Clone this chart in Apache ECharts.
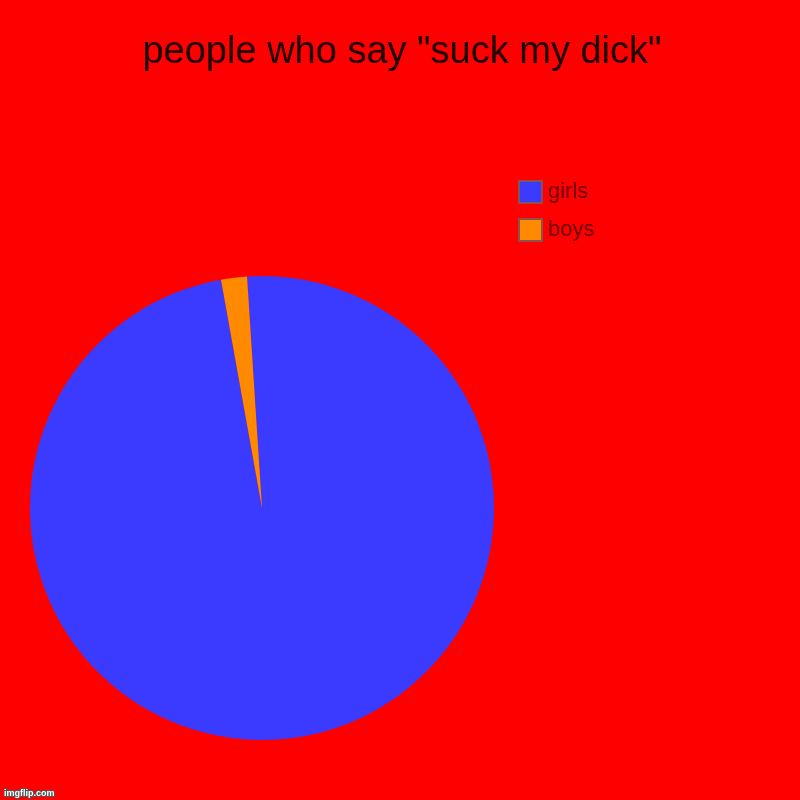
<!DOCTYPE html>
<html>
<head>
<meta charset="utf-8">
<script src="https://cdn.jsdelivr.net/npm/echarts@6/dist/echarts.min.js"></script>
<style>html,body{margin:0;padding:0;background:#ff0000;}#c{width:800px;height:800px;}</style>
</head>
<body>
<div id="c"></div>
<script>
const categories = ['girls', 'boys'];
const values = [98.2, 1.8];
const colors = ['#3b3bff', '#ff8a00'];

const chart = echarts.init(document.getElementById('c'));
chart.setOption({
  backgroundColor: '#ff0000',
  animation: false,
  title: {
    text: 'people who say "suck my dick"',
    left: 397,
    textAlign: 'center',
    top: 29,
    textStyle: { fontFamily: 'Liberation Sans', fontSize: 38, fontWeight: 'normal', color: '#1e0000' }
  },
  legend: {
    orient: 'vertical',
    left: 513,
    top: 175,
    icon: 'rect',
    itemWidth: 23,
    itemHeight: 22,
    itemGap: 14,
    itemStyle: { borderColor: '#8c5050', borderWidth: 2 },
    textStyle: { fontFamily: 'Liberation Sans', fontSize: 22, color: '#6e0000', padding: [0, 0, 0, 1] },
    data: categories
  },
  graphic: [{
    type: 'text',
    left: 3,
    top: 788,
    style: {
      text: 'imgflip.com',
      fill: '#ffffff',
      font: 'bold 9px "Liberation Sans"',
      stroke: '#555555',
      lineWidth: 2
    },
    z: 10
  }],
  series: [{
    type: 'pie',
    center: [262, 508],
    radius: [0, 232],
    startAngle: 93.7,
    clockwise: true,
    label: { show: false },
    labelLine: { show: false },
    emphasis: { disabled: true },
    data: categories.map((c, i) => ({ name: c, value: values[i], itemStyle: { color: colors[i] } }))
  }]
});
</script>
</body>
</html>
